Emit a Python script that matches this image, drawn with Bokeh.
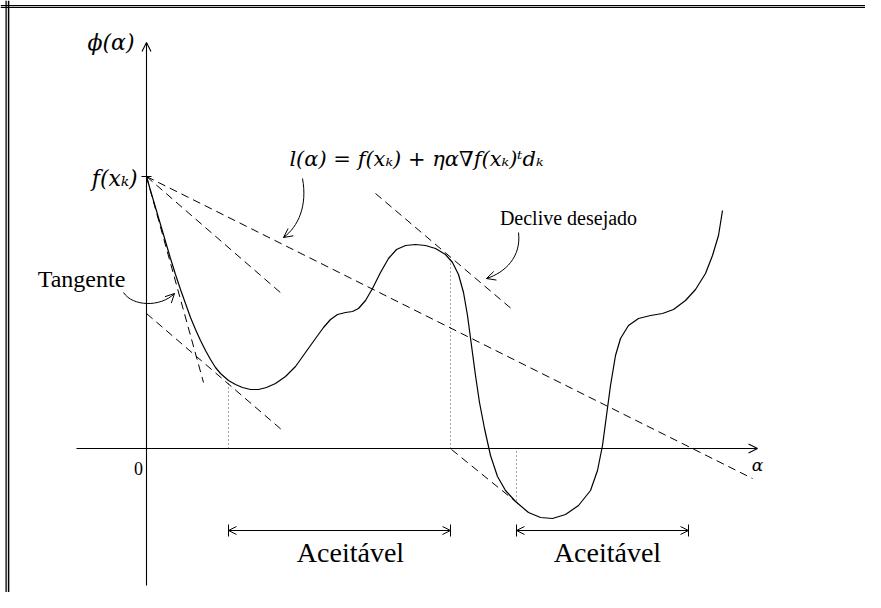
from bokeh.plotting import figure
from bokeh.models import Range1d, Arrow, OpenHead, TeeHead, Span
from bokeh.core.properties import value
from bokeh.embed import file_html
from bokeh.resources import INLINE

# ---- data ----
curve_x = [0.0, 0.4, 0.9, 1.4, 1.9, 2.4, 2.9, 3.4, 3.9, 4.4, 4.9, 5.4, 5.9, 6.4, 6.9, 7.4, 8.2, 8.9,
           9.6, 10.4, 11.2, 12.0, 12.9, 13.9, 14.9, 15.9, 16.9, 17.7, 18.4, 19.1, 19.9, 20.6, 21.2,
           21.9, 22.6, 23.4, 24.2, 25.0, 25.9, 26.9, 27.9, 28.9, 29.9, 30.6, 31.2, 31.7, 32.1, 32.5,
           32.9, 33.3, 33.8, 34.4, 35.1, 35.9, 36.9, 38.2, 39.4, 40.6, 41.9, 43.2, 44.4, 45.1, 45.6,
           46.0, 46.4, 46.9, 47.4, 48.2, 49.2, 50.4, 51.6, 52.7, 53.9, 54.9, 55.9, 56.6, 57.2, 57.6]
curve_y = [27.2, 25.8, 24.1, 22.4, 20.7, 19.0, 17.4, 15.9, 14.5, 13.1, 11.9, 10.8, 9.8, 8.9, 8.1, 7.5,
           6.8, 6.4, 6.1, 5.9, 5.9, 6.1, 6.5, 7.2, 8.2, 9.6, 11.0, 12.1, 12.9, 13.4, 13.6, 13.7, 14.0,
           14.8, 16.0, 17.6, 19.0, 19.9, 20.3, 20.4, 20.3, 20.0, 19.4, 18.6, 17.4, 15.6, 13.3, 10.3,
           7.3, 4.6, 2.0, -0.7, -2.8, -4.2, -5.3, -6.4, -6.9, -7.0, -6.6, -5.7, -4.2, -2.2, 0.3,
           3.3, 6.3, 9.3, 11.0, 12.3, 13.0, 13.3, 13.5, 13.9, 14.8, 15.9, 17.5, 19.3, 21.3, 23.8]

# dashed lines: l(alpha), intermediate slope, tangent at 0, and three tangents of desired slope
dash_x0 = [0.0, 0.0, 0.0, 0.0, 22.9, 30.5]
dash_y0 = [27.2, 27.2, 27.2, 13.5, 25.5, -0.1]
dash_x1 = [60.6, 13.5, 5.7, 13.6, 36.7, 37.4]
dash_y1 = [-3.0, 15.5, 6.6, 1.8, 13.8, -5.7]

# dotted verticals (alpha positions and curve heights)
dot_x = [8.2, 30.4, 37.0]
dot_top = [6.6, 19.0, -0.3]
dot_bottom = [0.0, 0.0, -5.2]

# acceptable intervals
interval_start = [8.2, 37.0]
interval_end = [30.4, 54.2]
interval_y = -8.2
interval_label = ["Aceitável", "Aceitável"]
interval_label_x = [20.4, 46.1]

fx0 = 27.2  # f(x_k)

# curved annotation arrows (bezier: start, ctrl0, ctrl1, end)
bez_x0 = [-2.3, 15.6, 37.2]
bez_y0 = [15.6, 27.0, 21.6]
bez_cx0 = [-1.4, 16.1, 37.5]
bez_cy0 = [14.2, 24.3, 19.2]
bez_cx1 = [1.4, 15.2, 35.9]
bez_cy1 = [14.1, 22.2, 17.6]
bez_x1 = [2.8, 13.7, 34.0]
bez_y1 = [15.5, 21.1, 17.0]

X_MIN, X_MAX = -14.6, 71.9
Y_MIN, Y_MAX = -14.4, 44.8

SERIF = value("Liberation Serif")
MATH = value("DejaVu Serif")

p = figure(width=865, height=592, x_range=Range1d(X_MIN, X_MAX), y_range=Range1d(Y_MIN, Y_MAX),
           x_axis_type=None, y_axis_type=None, toolbar_location=None, output_backend="svg",
           min_border=0)
p.outline_line_color = None
p.outline_line_alpha = 0
p.grid.visible = False
p.background_fill_color = "white"
p.border_fill_color = "white"

# frame (double line, top and left edges visible)
for off, w in [(0.56, 1.3), (0.81, 1.5)]:
    p.add_layout(Span(location=X_MIN + off, dimension="height", line_color="black", line_width=w))
for off, w in [(0.52, 1.2), (0.70, 1.2)]:
    p.add_layout(Span(location=Y_MAX - off, dimension="width", line_color="black", line_width=w))

# axes with arrows
p.add_layout(Arrow(end=OpenHead(size=9, line_width=1.1), x_start=0, y_start=-13.7, x_end=0, y_end=40.6,
                   line_width=1.1))
p.add_layout(Arrow(end=OpenHead(size=9, line_width=1.1), x_start=-7.0, y_start=0, x_end=61.1, y_end=0,
                   line_width=1.1))
# tick at f(x_k)
p.segment(x0=[-0.5], y0=[fx0], x1=[0.5], y1=[fx0], line_color="black", line_width=1.1)

# dotted verticals
p.segment(x0=dot_x, y0=dot_bottom, x1=dot_x, y1=dot_top, line_color="#444444", line_width=1,
          line_dash="1 3")

# dashed lines
p.segment(x0=dash_x0, y0=dash_y0, x1=dash_x1, y1=dash_y1, line_color="black", line_width=1,
          line_dash="8 5")

# curve
p.line(curve_x, curve_y, line_color="black", line_width=1.2)

# intervals
for a, b in zip(interval_start, interval_end):
    p.add_layout(Arrow(start=OpenHead(size=8, line_width=1), end=OpenHead(size=8, line_width=1),
                       x_start=a, y_start=interval_y, x_end=b, y_end=interval_y, line_width=1))
    p.add_layout(Arrow(start=TeeHead(size=12, line_width=1), end=TeeHead(size=12, line_width=1),
                       x_start=a, y_start=interval_y, x_end=b, y_end=interval_y, line_width=0,
                       line_alpha=0))

# curved arrows
p.bezier(x0=bez_x0, y0=bez_y0, x1=bez_x1, y1=bez_y1, cx0=bez_cx0, cy0=bez_cy0, cx1=bez_cx1,
         cy1=bez_cy1, line_color="black", line_width=1)
for ex, ey, cx, cy in zip(bez_x1, bez_y1, bez_cx1, bez_cy1):
    dx, dy = ex - cx, ey - cy
    n = (dx * dx + dy * dy) ** 0.5
    p.add_layout(Arrow(end=OpenHead(size=9, line_width=1), x_start=ex - 0.3 * dx / n,
                       y_start=ey - 0.3 * dy / n, x_end=ex, y_end=ey, line_width=1))

# labels
p.text(x=[-1.2], y=[40.6], text=["ϕ(α)"], text_font=MATH, text_font_style="italic",
       text_font_size="22px", text_align="right", text_baseline="middle", text_color="black")
p.text(x=[-0.9], y=[27.0], text=["f(xₖ)"], text_font=MATH, text_font_style="italic",
       text_font_size="22px", text_align="right", text_baseline="middle", text_color="black")
p.text(x=[-0.8], y=[-2.0], text=["0"], text_font=SERIF, text_font_size="18px",
       text_align="center", text_baseline="middle", text_color="black")
p.text(x=[61.1], y=[-1.6], text=["α"], text_font=MATH, text_font_style="italic",
       text_font_size="17px", text_align="center", text_baseline="middle", text_color="black")
p.text(x=[27.0], y=[29.0], text=["l(α) = f(xₖ) + ηα∇f(xₖ)ᵗdₖ"], text_font=MATH,
       text_font_style="italic", text_font_size="21px", text_align="center",
       text_baseline="middle", text_color="black")
p.text(x=[-6.5], y=[17.0], text=["Tangente"], text_font=SERIF, text_font_size="24px",
       text_align="center", text_baseline="middle", text_color="black")
p.text(x=[42.2], y=[23.1], text=["Declive desejado"], text_font=SERIF, text_font_size="20px",
       text_align="center", text_baseline="middle", text_color="black")
p.text(x=interval_label_x, y=[-10.4, -10.4],
       text=interval_label, text_font=SERIF, text_font_size="28px", text_align="center",
       text_baseline="middle", text_color="black")

open("out.html", "w").write(file_html(p, INLINE))
